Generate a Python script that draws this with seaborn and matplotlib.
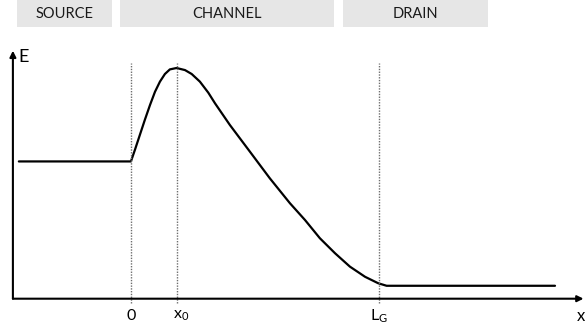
import matplotlib
matplotlib.use("Agg")
import numpy as np
import pandas as pd
import seaborn as sns
import matplotlib.pyplot as plt
from matplotlib.patches import Rectangle

# ---- data (schematic band profile, x in units of L_G, E normalised to peak) ----
regions = ["SOURCE", "CHANNEL", "DRAIN"]
tick_positions = [0.0, 0.185, 1.0]
tick_labels = ["0", r"$\mathregular{x_0}$", r"$\mathregular{L_G}$"]
axis_label_x = "x"
axis_label_y = "E"

position = [-0.452, 0.0, 0.016, 0.036, 0.056, 0.077, 0.097, 0.117, 0.137, 0.157,
            0.184, 0.218, 0.245, 0.278, 0.312, 0.339, 0.399, 0.480, 0.560, 0.641,
            0.702, 0.762, 0.823, 0.883, 0.944, 0.997, 1.031, 1.710]
energy = [0.595, 0.595, 0.645, 0.710, 0.775, 0.840, 0.897, 0.941, 0.974, 0.994,
          1.000, 0.991, 0.974, 0.941, 0.893, 0.847, 0.753, 0.637, 0.522, 0.414,
          0.341, 0.262, 0.197, 0.139, 0.095, 0.067, 0.056, 0.056]

# ---- style ----
sns.set_theme(style="white")
plt.rcParams["font.family"] = ["Lato", "DejaVu Sans"]
plt.rcParams["mathtext.fontset"] = "custom"
plt.rcParams["mathtext.rm"] = "Lato"
plt.rcParams["mathtext.it"] = "Lato"

W, H = 585, 330
fig = plt.figure(figsize=(W / 100, H / 100), dpi=100)
ax = fig.add_axes([0, 0, 1, 1])

df = pd.DataFrame({"x": position, "E": energy})
sns.lineplot(data=df, x="x", y="E", ax=ax, color="black", linewidth=1.6,
             sort=False, estimator=None)
for ln in ax.lines:
    ln.set_solid_joinstyle("round")

ax.set_xlim(-0.528, 1.831)
ax.set_ylim(-0.1357, 1.2948)
ax.set_axis_off()

# axes with arrows
x_axis_start = -0.476
ax.annotate("", xy=(1.825, 0), xytext=(x_axis_start, 0),
            arrowprops=dict(arrowstyle="-|>", lw=1.5, color="black", mutation_scale=9,
                            shrinkA=0, shrinkB=0))
ax.annotate("", xy=(x_axis_start, 1.075), xytext=(x_axis_start, 0),
            arrowprops=dict(arrowstyle="-|>", lw=1.5, color="black", mutation_scale=9,
                            shrinkA=0, shrinkB=0))

# dotted reference lines
ax.vlines(tick_positions, ymin=-0.02, ymax=1.022, colors="#6e6e6e",
          linestyles=(0, (1, 1)), linewidth=1.0)

# tick labels
offsets = [0, 3, 0]
for pos, lab, off in zip(tick_positions, tick_labels, offsets):
    ax.annotate(lab, xy=(pos, -0.075), xytext=(off, 0), textcoords="offset points",
                ha="center", va="center", fontsize=11.5, color="black")

ax.text(1.797, -0.075, axis_label_x, ha="left", va="center", fontsize=12, color="black")
ax.text(-0.452, 1.048, axis_label_y, ha="left", va="center", fontsize=13, color="black")

# header region boxes (pixel layout)
box_px = [(17, 111.5), (119.5, 334), (342.5, 487.5)]
for (x0, x1), name in zip(box_px, regions):
    fig.patches.append(Rectangle((x0 / W, 1 - 26.7 / H), (x1 - x0) / W, 26.7 / H,
                                 transform=fig.transFigure, facecolor="#e6e6e6",
                                 edgecolor="none"))
    fig.text((x0 + x1) / 2 / W, 1 - 13.5 / H, name, ha="center", va="center",
             fontsize=10.5, color="#1a1a1a")

fig.savefig("out.png", dpi=100)
